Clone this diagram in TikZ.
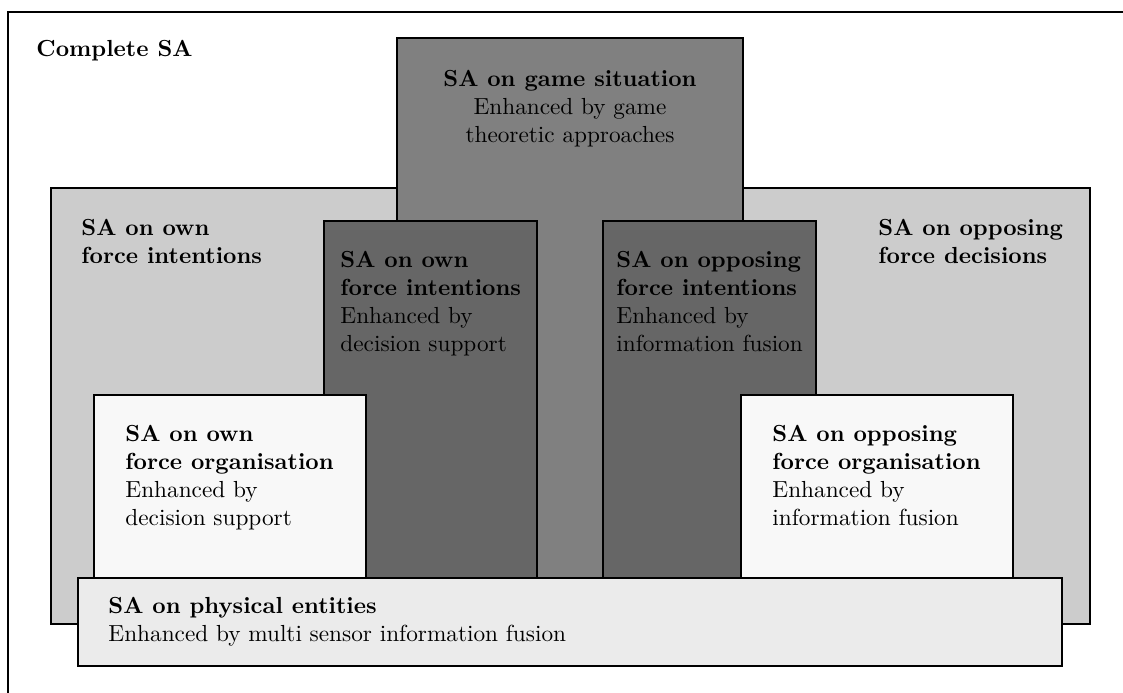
\documentclass[tikz,border=0pt]{standalone}
\begin{document}
\begin{tikzpicture}[x=0.43pt,y=-0.43pt,
  panel/.style={draw=black, line width=0.7pt},
  lbl/.style={anchor=north west, inner sep=0pt, align=left},
  clbl/.style={anchor=north, inner sep=0pt, align=center}]
\definecolor{gamefill}{gray}{0.5}
\definecolor{outerfill}{gray}{0.8}
\definecolor{intentfill}{gray}{0.4}
\definecolor{orgfill}{gray}{0.973}
\definecolor{physfill}{gray}{0.922}
\useasboundingbox (0,0) rectangle (1123,693);

% frame of the complete picture
\draw[line width=0.7pt] (8,693) -- (8,12) -- (1123,12);
\node[lbl] (complete) at (36,40) {\textbf{Complete SA}};

% decision layer
\filldraw[panel, fill=outerfill] (51,188) rectangle (1090,624);
% game situation layer
\filldraw[panel, fill=gamefill] (397,38) rectangle (743,578);
% intention layer
\filldraw[panel, fill=intentfill] (324,221) rectangle (537,578);
\filldraw[panel, fill=intentfill] (603,221) rectangle (816,578);
% organisation layer
\filldraw[panel, fill=orgfill] (94,395) rectangle (366,578);
\filldraw[panel, fill=orgfill] (741,395) rectangle (1013,578);
% physical layer
\filldraw[panel, fill=physfill] (78,578) rectangle (1062,666);

\node[clbl] (game) at (570,70)
  {\textbf{SA on game situation}\\ Enhanced by game\\ theoretic approaches};
\node[lbl] (owndec) at (81,219)
  {\textbf{SA on own}\\ \textbf{force intentions}};
\node[lbl] (oppdec) at (878,219)
  {\textbf{SA on opposing}\\ \textbf{force decisions}};
\node[lbl] (ownint) at (340,251)
  {\textbf{SA on own}\\ \textbf{force intentions}\\ Enhanced by\\ decision support};
\node[lbl] (oppint) at (616,251)
  {\textbf{SA on opposing}\\ \textbf{force intentions}\\ Enhanced by\\ information fusion};
\node[lbl] (ownorg) at (125,425)
  {\textbf{SA on own}\\ \textbf{force organisation}\\ Enhanced by\\ decision support};
\node[lbl] (opporg) at (772,425)
  {\textbf{SA on opposing}\\ \textbf{force organisation}\\ Enhanced by\\ information fusion};
\node[lbl] (phys) at (108,597)
  {\textbf{SA on physical entities}\\ Enhanced by multi sensor information fusion};
\end{tikzpicture}
\end{document}
